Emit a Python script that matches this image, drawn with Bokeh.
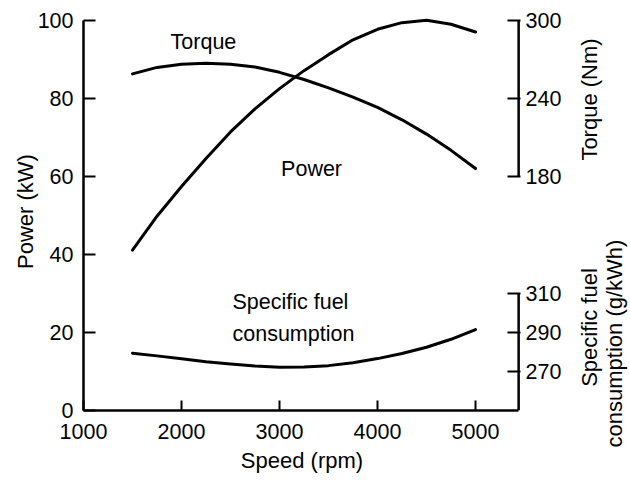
import math
from bokeh.plotting import figure
from bokeh.layouts import row
from bokeh.models import Range1d, LinearAxis, FixedTicker, Label
from bokeh.core.properties import value
from bokeh.embed import file_html
from bokeh.resources import INLINE

# ---- data ----
speed_rpm = [1500, 1750, 2000, 2250, 2500, 2750, 3000, 3250, 3500, 3750, 4000, 4250, 4500, 4750, 5000]
power_kw = [41.1, 49.8, 57.4, 64.6, 71.4, 77.3, 82.5, 87.1, 91.2, 95.0, 97.7, 99.4, 100.0, 99.0, 97.0]
torque_nm = [258.8, 263.8, 266.2, 267.0, 266.3, 264.1, 260.0, 254.5, 248.0, 241.0, 233.0, 223.5, 212.5, 200.0, 186.0]
sfc_gkwh = [279.4, 278.0, 276.5, 275.0, 273.8, 272.8, 272.2, 272.3, 273.0, 274.5, 276.6, 279.2, 282.4, 286.5, 291.5]

speed_ticks = [1000, 2000, 3000, 4000, 5000]
power_ticks = [0, 20, 40, 60, 80, 100]
torque_ticks = [180, 240, 300]
sfc_ticks = [270, 290, 310]

FONT = "Liberation Sans"
TICK_SIZE = "21.5px"
LABEL_SIZE = "22px"
NOTE_SIZE = "21.5px"

X_START, X_END_AXIS, X_END_RANGE = 1000, 5440, 5459

p = figure(width=570, height=480, output_backend="svg", toolbar_location=None,
           x_range=Range1d(X_START, X_END_RANGE), y_range=Range1d(0, 102),
           min_border_left=83, min_border_right=50, min_border_top=12, min_border_bottom=70,
           x_axis_label="Speed (rpm)", y_axis_label="Power (kW)")
p.frame_align = False
torque_rng = Range1d(0, 306)
sfc_rng = Range1d(250, 454)
p.extra_y_ranges = {"torque": torque_rng, "sfc": sfc_rng}
p.grid.visible = False
p.outline_line_color = None
p.background_fill_color = "white"
p.border_fill_color = "white"


def style_axis(ax, tick_in, standoff):
    ax.axis_line_width = 2.5
    ax.axis_line_color = "black"
    ax.major_tick_in = tick_in
    ax.major_tick_out = 0
    ax.major_tick_line_width = 2
    ax.major_tick_line_color = "black"
    ax.minor_tick_line_color = None
    ax.major_label_text_font = FONT
    ax.major_label_text_font_size = TICK_SIZE
    ax.major_label_text_color = "black"
    ax.major_label_standoff = standoff
    ax.axis_label_text_font = FONT
    ax.axis_label_text_font_size = LABEL_SIZE
    ax.axis_label_text_font_style = "normal"
    ax.axis_label_text_color = "black"


xa = p.xaxis[0]
xa.ticker = FixedTicker(ticks=speed_ticks)
xa.bounds = (X_START, X_END_AXIS)
style_axis(xa, 10, 13)
xa.axis_label_standoff = 6

ya = p.yaxis[0]
ya.ticker = FixedTicker(ticks=power_ticks)
ya.bounds = (power_ticks[0], power_ticks[-1])
style_axis(ya, 12, 10)
ya.axis_label_standoff = -3


def to_main(v, rng):
    main = p.y_range
    return round(main.start + (v - rng.start) / (rng.end - rng.start) * (main.end - main.start), 6)


overrides = {}
for t in torque_ticks:
    overrides[to_main(t, torque_rng)] = str(t)
for s in sfc_ticks:
    overrides[to_main(s, sfc_rng)] = str(s)

ra = LinearAxis(ticker=FixedTicker(ticks=sorted(overrides)), major_label_overrides=overrides)
style_axis(ra, 13, 5)
ra.axis_line_color = None
p.add_layout(ra, "right")

# right-hand axis lines (two separate scales on one side)
p.segment(x0=[X_END_AXIS], y0=[torque_ticks[0]], x1=[X_END_AXIS], y1=[torque_ticks[-1]],
          y_range_name="torque", line_width=2.5, line_color="black")
p.segment(x0=[X_END_AXIS], y0=[sfc_rng.start], x1=[X_END_AXIS], y1=[sfc_ticks[-1]],
          y_range_name="sfc", line_width=2.5, line_color="black")

# curves
p.line(speed_rpm, power_kw, line_width=3, line_color="black", line_join="round", line_cap="round")
p.line(speed_rpm, torque_nm, y_range_name="torque", line_width=3, line_color="black",
       line_join="round", line_cap="round")
p.line(speed_rpm, sfc_gkwh, y_range_name="sfc", line_width=3, line_color="black",
       line_join="round", line_cap="round")


def note(x, y, text, align="center"):
    p.add_layout(Label(x=x, y=y, text=text, angle=0.0,
                       text_align=align, text_baseline="middle", text_font=FONT,
                       text_font_size=NOTE_SIZE, text_color="black"))


note(2224, 94.4, "Torque")
note(3327, 62.0, "Power")
note(2520, 27.7, "Specific fuel", align="left")
note(2520, 19.7, "consumption", align="left")

# side panel holding the two right-hand axis titles (pixel placement)
side = figure(width=60, height=480, output_backend="svg", toolbar_location=None,
              x_range=Range1d(0, 60), y_range=Range1d(480, 0),
              x_axis_type=None, y_axis_type=None,
              min_border_left=0, min_border_right=0, min_border_top=0, min_border_bottom=0)
side.frame_align = False
side.grid.visible = False
side.outline_line_color = None
side.background_fill_color = "white"
side.border_fill_color = "white"
side.text(x=[19, 19, 44], y=[99, 327, 343],
          text=["Torque (Nm)", "Specific fuel", "consumption (g/kWh)"],
          angle=math.pi / 2, text_align="center", text_baseline="middle",
          text_font=value(FONT), text_font_size=LABEL_SIZE, text_color="black")

layout = row(p, side, spacing=0)
open("out.html", "w").write(file_html(layout, INLINE))
